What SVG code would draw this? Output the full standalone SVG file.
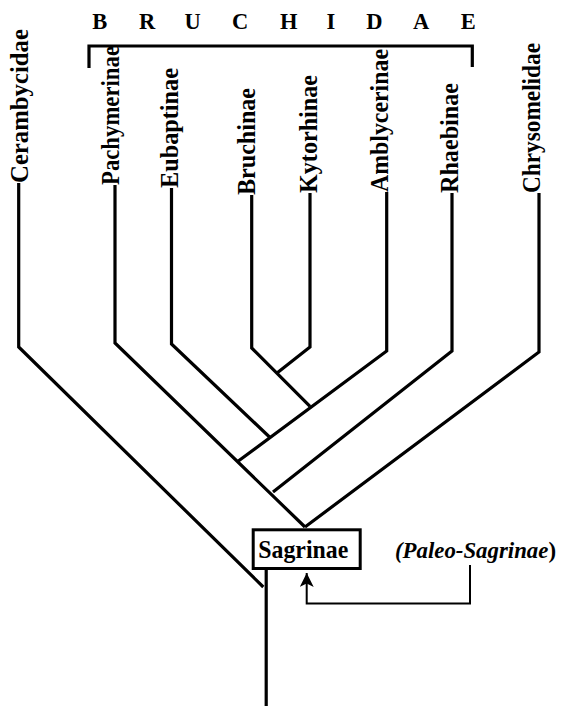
<svg xmlns="http://www.w3.org/2000/svg" width="566" height="706" viewBox="0 0 566 706">
  <style>
    .lbl { font-family: "Liberation Serif", "Times New Roman", serif; font-weight: bold; font-size: 25px; fill: #000; }
    .cap { font-family: "Liberation Serif", "Times New Roman", serif; font-weight: bold; font-size: 22.5px; fill: #000; }
    .br { stroke: #000; stroke-width: 3.2; fill: none; stroke-linejoin: miter; stroke-linecap: butt; }
    .thin { stroke: #000; stroke-width: 2; fill: none; }
  </style>
  <defs>
    <marker id="arrowhead" viewBox="0 0 14 14" refX="14" refY="7" markerWidth="14" markerHeight="14" markerUnits="userSpaceOnUse" orient="auto">
      <path d="M0,0 L14,7 L0,14 L3.5,7 Z" fill="#000"/>
    </marker>
  </defs>
  <rect width="566" height="706" fill="#fff"/>

  <!-- family bracket -->
  <g id="bruchidae">
    <text class="cap" x="99.7 147 192.5 240 288.8 331 374.3 421 468.3" y="29.3" text-anchor="middle">BRUCHIDAE</text>
    <path class="br" d="M89,68 V46 H472.3 V67"/>
  </g>

  <!-- terminal taxa -->
  <g id="cerambycidae"><text class="lbl" transform="translate(27.9,183) rotate(-90)" textLength="154" lengthAdjust="spacingAndGlyphs">Cerambycidae</text></g>
  <g id="pachymerinae"><text class="lbl" transform="translate(119,185) rotate(-90)" textLength="139" lengthAdjust="spacingAndGlyphs">Pachymerinae</text></g>
  <g id="eubaptinae"><text class="lbl" transform="translate(177.9,188) rotate(-90)" textLength="120" lengthAdjust="spacingAndGlyphs">Eubaptinae</text></g>
  <g id="bruchinae"><text class="lbl" transform="translate(255,195) rotate(-90)" textLength="107" lengthAdjust="spacingAndGlyphs">Bruchinae</text></g>
  <g id="kytorhinae"><text class="lbl" transform="translate(316.6,193) rotate(-90)" textLength="118" lengthAdjust="spacingAndGlyphs">Kytorhinae</text></g>
  <g id="amblycerinae"><text class="lbl" transform="translate(387.9,192) rotate(-90)" textLength="143" lengthAdjust="spacingAndGlyphs">Amblycerinae</text></g>
  <g id="rhaebinae"><text class="lbl" transform="translate(458.3,193) rotate(-90)" textLength="110" lengthAdjust="spacingAndGlyphs">Rhaebinae</text></g>
  <g id="chrysomelidae"><text class="lbl" transform="translate(539.6,193) rotate(-90)" textLength="150" lengthAdjust="spacingAndGlyphs">Chrysomelidae</text></g>

  <!-- ancestral node -->
  <g id="sagrinae">
    <rect x="253.2" y="529.8" width="107" height="38.7" fill="#fff" stroke="#000" stroke-width="3"/>
    <text class="lbl" x="303.3" y="558.3" font-size="24.5" text-anchor="middle" textLength="90" lengthAdjust="spacingAndGlyphs">Sagrinae</text>
  </g>

  <g id="paleo-sagrinae">
    <text x="395" y="558.3" font-family="Liberation Serif, Times New Roman, serif" font-weight="bold" font-style="italic" font-size="23" fill="#000" textLength="161" lengthAdjust="spacingAndGlyphs">(Paleo-Sagrinae<tspan font-style="normal">)</tspan></text>
  </g>

  <!-- branches -->
  <g id="connectors">
    <path class="br" d="M18.7,183 V347 L263.3,587"/>
    <path class="br" d="M115,185 V343 L305,527"/>
    <path class="br" d="M171.5,188 V344 L270,437.5"/>
    <path class="br" d="M251.7,195 V348 L310,406.3"/>
    <path class="br" d="M310,193 V347 L277,373"/>
    <path class="br" d="M386.7,192 V351 L237,462"/>
    <path class="br" d="M452,193 V351 L273,492"/>
    <path class="br" d="M539,193 V352 L305,527"/>
    <path class="br" d="M266.2,570 V706"/>
    <path class="thin" d="M470,565 V603.5 H306.7 V573" marker-end="url(#arrowhead)"/>
  </g>
</svg>
